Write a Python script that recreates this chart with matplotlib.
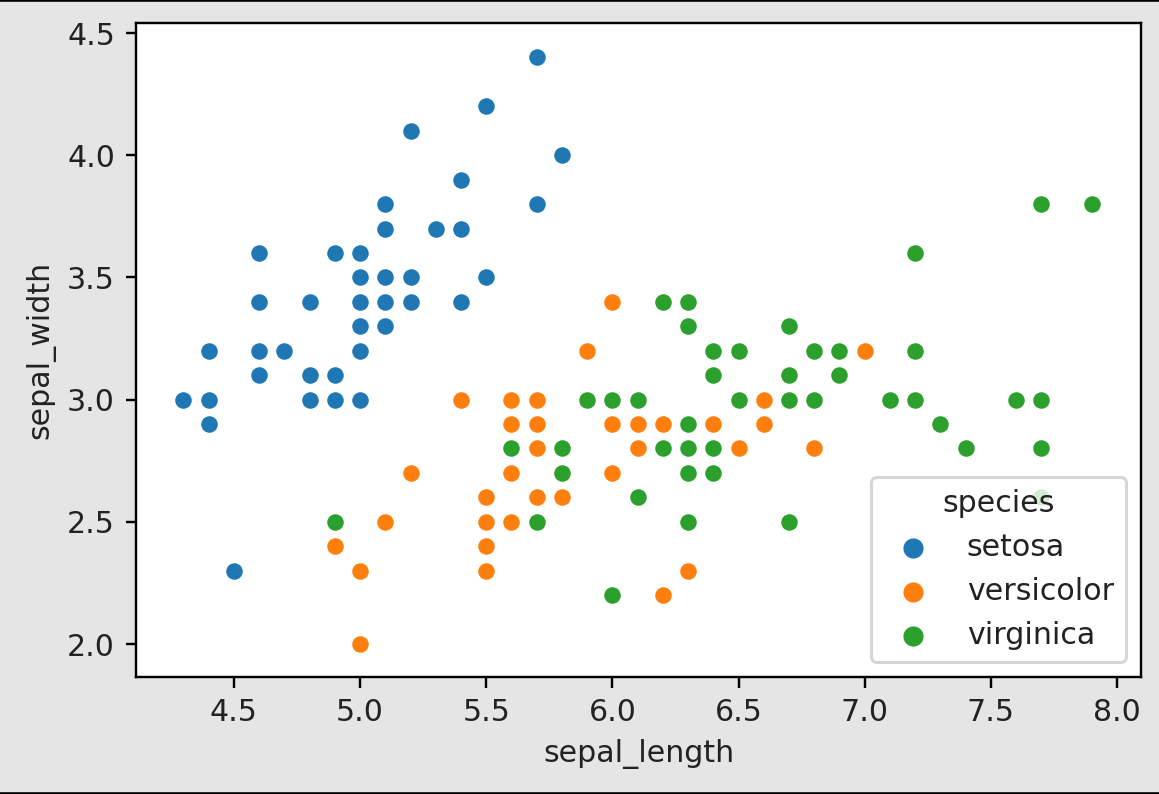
import matplotlib
matplotlib.use("Agg")
import matplotlib.pyplot as plt
import numpy as np

species = ["setosa", "versicolor", "virginica"]
colors = ["#1f77b4", "#ff7f0e", "#2ca02c"]

setosa_length = [5.1,4.9,4.7,4.6,5.0,5.4,4.6,5.0,4.4,4.9,5.4,4.8,4.8,4.3,5.8,5.7,5.4,5.1,5.7,5.1,5.4,5.1,4.6,5.1,4.8,5.0,5.0,5.2,5.2,4.7,4.8,5.4,5.2,5.5,4.9,5.0,5.5,4.9,4.4,5.1,5.0,4.5,4.4,5.0,5.1,4.8,5.1,4.6,5.3,5.0]
setosa_width = [3.5,3.0,3.2,3.1,3.6,3.9,3.4,3.4,2.9,3.1,3.7,3.4,3.0,3.0,4.0,4.4,3.9,3.5,3.8,3.8,3.4,3.7,3.6,3.3,3.4,3.0,3.4,3.5,3.4,3.2,3.1,3.4,4.1,4.2,3.1,3.2,3.5,3.6,3.0,3.4,3.5,2.3,3.2,3.5,3.8,3.0,3.8,3.2,3.7,3.3]
versicolor_length = [7.0,6.4,6.9,5.5,6.5,5.7,6.3,4.9,6.6,5.2,5.0,5.9,6.0,6.1,5.6,6.7,5.6,5.8,6.2,5.6,5.9,6.1,6.3,6.1,6.4,6.6,6.8,6.7,6.0,5.7,5.5,5.5,5.8,6.0,5.4,6.0,6.7,6.3,5.6,5.5,5.5,6.1,5.8,5.0,5.6,5.7,5.7,6.2,5.1,5.7]
versicolor_width = [3.2,3.2,3.1,2.3,2.8,2.8,3.3,2.4,2.9,2.7,2.0,3.0,2.2,2.9,2.9,3.1,3.0,2.7,2.2,2.5,3.2,2.8,2.5,2.8,2.9,3.0,2.8,3.0,2.9,2.6,2.4,2.4,2.7,2.7,3.0,3.4,3.1,2.3,3.0,2.5,2.6,3.0,2.6,2.3,2.7,3.0,2.9,2.9,2.5,2.8]
virginica_length = [6.3,5.8,7.1,6.3,6.5,7.6,4.9,7.3,6.7,7.2,6.5,6.4,6.8,5.7,5.8,6.4,6.5,7.7,7.7,6.0,6.9,5.6,7.7,6.3,6.7,7.2,6.2,6.1,6.4,7.2,7.4,7.9,6.4,6.3,6.1,7.7,6.3,6.4,6.0,6.9,6.7,6.9,5.8,6.8,6.7,6.7,6.3,6.5,6.2,5.9]
virginica_width = [3.3,2.7,3.0,2.9,3.0,3.0,2.5,2.9,2.5,3.6,3.2,2.7,3.0,2.5,2.8,3.2,3.0,3.8,2.6,2.2,3.2,2.8,2.8,2.7,3.3,3.2,2.8,3.0,2.8,3.0,2.8,3.8,2.8,2.8,2.6,3.0,3.4,3.1,3.0,3.1,3.1,3.1,2.7,3.2,3.3,3.0,2.5,3.0,3.4,3.0]

x_ticks = [4.5, 5.0, 5.5, 6.0, 6.5, 7.0, 7.5, 8.0]
y_ticks = [2.0, 2.5, 3.0, 3.5, 4.0, 4.5]

lengths = [setosa_length, versicolor_length, virginica_length]
widths = [setosa_width, versicolor_width, virginica_width]

DPI = 216
W, H = 1159, 794
fig = plt.figure(figsize=(W / DPI, H / DPI), dpi=DPI, facecolor="#e5e5e5")
ax = fig.add_axes([136 / W, (H - 677) / H, (1141 - 136) / W, (677 - 23) / H])
ax.set_facecolor("white")

for name, c, xs, ys in zip(species, colors, lengths, widths):
    ax.scatter(xs, ys, s=36, color=c, edgecolor="white", linewidth=0.48, label=name, zorder=2)

ax.set_xlabel("sepal_length", fontsize=10, color="#222222")
ax.set_ylabel("sepal_width", fontsize=10, color="#222222")
ax.set_xticks(x_ticks)
ax.set_yticks(y_ticks)
ax.set_xlim(4.112, 8.095)
ax.set_ylim(1.865, 4.541)
ax.tick_params(labelsize=10, labelcolor="#222222")

leg = ax.legend(title="species", loc="lower right", fontsize=10, title_fontsize=10,
                framealpha=0.8, markerscale=1.2, labelspacing=0.5)
for t in leg.get_texts():
    t.set_color("#222222")
leg.get_title().set_color("#222222")

# black edge lines at top and bottom of the image
fig.add_artist(plt.Line2D([0, 1], [1, 1], transform=fig.transFigure, color="black", linewidth=1.2))
fig.add_artist(plt.Line2D([0, 1], [0, 0], transform=fig.transFigure, color="black", linewidth=1.2))

fig.savefig("out.png", dpi=DPI, facecolor=fig.get_facecolor())
